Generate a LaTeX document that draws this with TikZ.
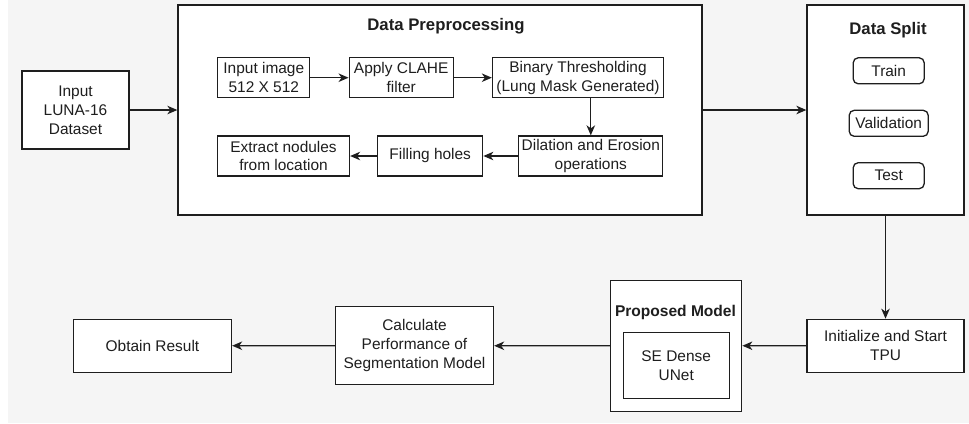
\documentclass[tikz,border=0pt]{standalone}
\usepackage{fontspec}
\setmainfont{Liberation Sans}
\usetikzlibrary{arrows.meta}
\definecolor{canvas}{RGB}{245,245,245}
\definecolor{ink}{RGB}{30,30,30}
\begin{document}
\begin{tikzpicture}[x=1bp,y=-1bp,
  box/.style={draw=ink, fill=white, line width=1.3bp, align=center, inner sep=0pt,
              text=ink, font=\fontsize{15.5}{19}\selectfont},
  pill/.style={box, rounded corners=5bp},
  heading/.style={font=\fontsize{16.8}{20}\selectfont\bfseries, text=ink, inner sep=0pt},
  flow/.style={draw=ink, line width=1.3bp, -{Stealth[length=10bp,width=8.5bp,inset=3bp]}}
]
% canvas
\fill[canvas] (8,0) rectangle (969,423);
\useasboundingbox (0,0) rectangle (969,423);

% top row: input, preprocessing group, data split group
\node[box, minimum width=107bp, minimum height=78bp] (luna) at (75.5,110) {Input\\LUNA-16\\Dataset};
\node[box, minimum width=524bp, minimum height=210bp] (prep) at (440,110) {};
\node[heading] at (446,26) {Data Preprocessing};
\node[box, minimum width=157bp, minimum height=210bp] (split) at (885.5,110) {};
\node[heading] at (888,30) {Data Split};

% preprocessing steps
\node[box, minimum width=92bp, minimum height=40bp] (img) at (263.8,77.7) {Input image\\512 X 512};
\node[box, minimum width=104bp, minimum height=40bp] (clahe) at (401.2,77.7) {Apply CLAHE\\filter};
\node[box, minimum width=171bp, minimum height=40bp] (thresh) at (578,77.7) {Binary Thresholding\\(Lung Mask Generated)};
\node[box, minimum width=144bp, minimum height=40bp] (dil) at (590.8,156) {Dilation and Erosion\\operations};
\node[box, minimum width=105bp, minimum height=40bp] (holes) at (430.2,156) {Filling holes};
\node[box, minimum width=132bp, minimum height=40bp] (extract) at (283.5,156) {Extract nodules\\from location};

% split parts
\node[pill, minimum width=71bp, minimum height=26bp] (train) at (888.7,70.8) {Train};
\node[pill, minimum width=79bp, minimum height=26bp] (valid) at (888.7,123.3) {Validation};
\node[pill, minimum width=71bp, minimum height=26bp] (test) at (888.7,175.7) {Test};

% bottom row
\node[box, minimum width=157bp, minimum height=53bp] (init) at (885.5,345.8) {Initialize and Start\\TPU};
\node[box, minimum width=131bp, minimum height=131bp] (model) at (676.2,345.7) {};
\node[heading, font=\fontsize{15.6}{19}\selectfont\bfseries] at (675.5,312.3) {Proposed Model};
\node[box, minimum width=106bp, minimum height=66bp] (unet) at (676.2,365.3) {SE Dense\\UNet};
\node[box, minimum width=158bp, minimum height=78bp] (calc) at (414.5,345.8) {Calculate\\Performance of\\Segmentation Model};
\node[box, minimum width=158bp, minimum height=53bp] (result) at (152.5,345.7) {Obtain Result};

% connectors
\draw[flow] (luna) -- (prep);
\draw[flow] (prep) -- (split);
\draw[flow] (img) -- (clahe);
\draw[flow] (clahe) -- (thresh);
\draw[flow] (dil.north |- thresh.south) -- (dil.north);
\draw[flow] (dil) -- (holes);
\draw[flow] (holes) -- (extract);
\draw[flow] (split) -- (init);
\draw[flow] (init) -- (model);
\draw[flow] (model) -- (calc);
\draw[flow] (calc) -- (result);
\end{tikzpicture}
\end{document}
